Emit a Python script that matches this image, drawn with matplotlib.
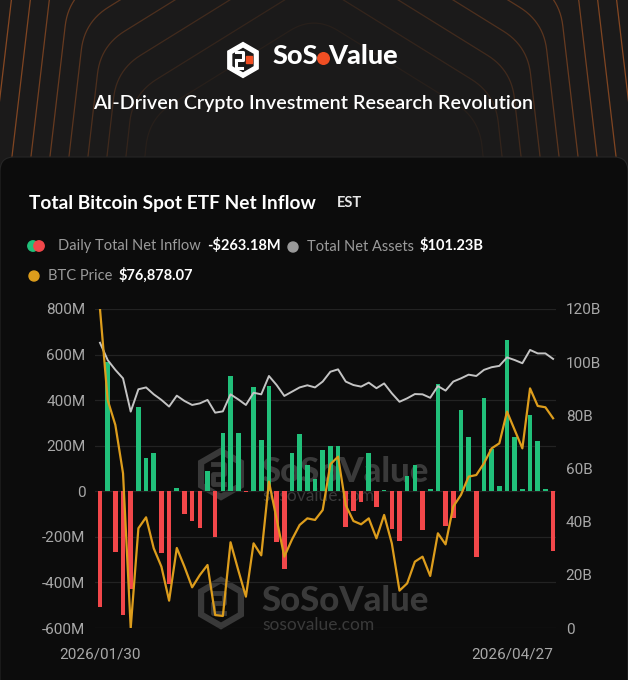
import numpy as np
import matplotlib
matplotlib.use("Agg")
import matplotlib.pyplot as plt
from matplotlib.patches import Rectangle, FancyBboxPatch, Circle, RegularPolygon

# daily total net inflow, $M (Jan 30 -> Apr 27, 2026, trading days)
net_inflow = [-510, 566, -268, -541, -430, 371, 146, 167, -272, -406,
              13, -99, -129, -162, 88, -199, 257, 506, 254, -5,
              459, 225, 462, -222, -342, 167, 251, 117, 53, 181,
              200, 199, -158, -85, -47, 167, -70, 6, -167, -216,
              69, 117, -170, 9, 471, -152, -117, 357, 240, -287,
              409, 184, 23, 662, 237, 9, 335, 222, 9, -263.18]

# total net assets, $B
net_assets = [107.3, 100.8, 97.1, 93.9, 81.4, 89.8, 90.5, 87.9, 85.8, 83.3,
              87.4, 85.4, 83.9, 84.5, 85.8, 81.0, 81.5, 87.9, 86.0, 83.9,
              88.5, 87.9, 94.8, 91.4, 87.3, 88.9, 90.5, 91.3, 90.5, 92.7,
              96.4, 97.3, 92.7, 91.4, 90.8, 92.3, 90.2, 92.0, 88.3, 85.1,
              86.4, 88.0, 87.9, 86.6, 91.0, 89.3, 92.7, 93.9, 95.3, 94.8,
              97.1, 98.1, 98.6, 101.8, 100.8, 99.6, 104.6, 103.3, 103.3, 101.23]

# BTC price, $
btc_price = [85150, 78260, 76370, 72710, 61000, 68550, 69380, 67030, 65640, 63070,
             67060, 65640, 64080, 65010, 65770, 61980, 61910, 67490, 65390, 63370,
             67410, 66500, 72080, 69250, 66400, 67700, 68800, 69300, 69180, 69930,
             73400, 73970, 70300, 69100, 68850, 69300, 67790, 69560, 67410, 63830,
             64380, 66020, 66400, 64940, 68170, 67330, 70190, 71070, 72460, 72580,
             73470, 74600, 74980, 77380, 75990, 74600, 79140, 77810, 77710, 76878.07]

date_labels = ["2026/01/30", "2026/04/27"]
left_ticks = [-600, -400, -200, 0, 200, 400, 600, 800]
right_ticks = [0, 20, 40, 60, 80, 100, 120]

GREEN = "#21c07a"
RED = "#f2474a"
ORANGE = "#dd9d1c"
GREY = "#c4c4c4"
TICK = "#a8a8a8"

W, H = 628, 680
fig = plt.figure(figsize=(W / 100, H / 100), dpi=100)
fig.patch.set_facecolor("#1b1a1a")

# full-figure axis in pixel coordinates for the banner / card / texts
bg = fig.add_axes([0, 0, 1, 1])
bg.set_xlim(0, W)
bg.set_ylim(H, 0)
bg.axis("off")


def rounded(pts, r):
    out = [pts[0]]
    for i in range(1, len(pts) - 1):
        p, a, b = pts[i], pts[i - 1], pts[i + 1]
        p1 = p + r * (a - p) / np.linalg.norm(a - p)
        p2 = p + r * (b - p) / np.linalg.norm(b - p)
        t = np.linspace(0, 1, 14)[:, None]
        out.extend((1 - t) ** 2 * p1 + 2 * (1 - t) * t * p + t ** 2 * p2)
    out.append(pts[-1])
    return np.array(out)


# banner pattern: nested house-like outlines
cx = 314
for k in range(16):
    hw = 170 + 19 * k
    yc = 118 - 24 * k
    hwc = hw - 0.12 * (160 - yc)
    pts = np.array([(cx - hw, 165), (cx - hwc, yc), (cx, yc - 0.62 * hwc),
                    (cx + hwc, yc), (cx + hw, 165)], dtype=float)
    path = rounded(pts, 28)
    bg.plot(path[:, 0], path[:, 1], color="#9a5024", lw=0.9,
            alpha=min(0.85, 0.1 + 0.1 * k), zorder=1)

# logo
bg.add_patch(RegularPolygon((243, 60), 6, radius=17.5, color="white", zorder=3))
bg.add_patch(RegularPolygon((243, 60), 6, radius=11.5, color="#1b1a1a", zorder=3))
bg.plot([236, 243, 243, 236], [52, 52, 60, 60], color="white", lw=2.2, zorder=4)
bg.plot([236, 236, 242], [60, 68, 68], color="white", lw=2.2, zorder=4)
bg.add_patch(Rectangle((245.5, 56), 6, 7, color="#f04e23", zorder=4))

renderer = fig.canvas.get_renderer()
inv = bg.transData.inverted()


def right_edge(t):
    bb = t.get_window_extent(renderer)
    return inv.transform((bb.x1, bb.y0))[0]


logo_kw = dict(fontsize=19.5, fontweight="black", family="Lato", color="white",
               va="center", zorder=4)
t1 = bg.text(273, 56, "SoS", **logo_kw)
xo = right_edge(t1)
bg.add_patch(Circle((xo + 5, 58.5), 5.8, color="#f04e23", zorder=4))
bg.text(xo + 10, 56, "Value", **logo_kw)

bg.text(313, 104, "AI-Driven Crypto Investment Research Revolution", fontsize=14.2,
        fontweight="semibold", family="Lato", color="white", ha="center",
        va="center", zorder=4)

# dark card
bg.add_patch(FancyBboxPatch((0, 157), W, 560, boxstyle="round,pad=0,rounding_size=14",
                            facecolor="#0c0c0c", edgecolor="#262626", lw=0.8, zorder=2))

bg.text(29, 204, "Total Bitcoin Spot ETF Net Inflow", fontsize=13.8, fontweight="bold",
        family="Lato", color="white", va="center", zorder=4)
bg.text(337, 203, "EST", fontsize=10.5, fontweight="bold", family="Lato",
        color="#e6e6e6", va="center", zorder=4)

# legend
lab_kw = dict(fontsize=10.5, family="Lato", color="#9b9b9b", va="center", zorder=4)
val_kw = dict(fontsize=10.5, family="Lato", fontweight="bold", color="white",
              va="center", zorder=4)
bg.add_patch(Circle((33, 246), 5.2, color=GREEN, zorder=4))
bg.add_patch(Circle((39, 246), 5.2, color=RED, zorder=5))
t = bg.text(58, 246, "Daily Total Net Inflow", **lab_kw)
last = net_inflow[-1]
sign = "-" if last < 0 else ""
bg.text(right_edge(t) + 6, 245, f"{sign}${abs(last):.2f}M", **val_kw)
bg.add_patch(Circle((293, 247), 5, color="#9a9a9a", zorder=4))
t = bg.text(307, 247, "Total Net Assets", **lab_kw)
bg.text(right_edge(t) + 6, 246, f"${net_assets[-1]:.2f}B", **val_kw)
bg.add_patch(Circle((34, 276), 5, color=ORANGE, zorder=4))
t = bg.text(48, 276, "BTC Price", **lab_kw)
bg.text(right_edge(t) + 6, 275, f"${btc_price[-1]:,.2f}", **val_kw)


# watermarks
def watermark(yc):
    bg.add_patch(RegularPolygon((221, yc + 2), 6, radius=23, fill=False,
                                edgecolor="#393939", lw=4.5, zorder=3))
    bg.plot([213, 224, 224, 213, 213, 224], [yc - 8, yc - 8, yc + 2, yc + 2, yc + 12, yc + 12],
            color="#393939", lw=3.5, zorder=3)
    bg.text(261, yc, "SoSoValue", fontsize=25, fontweight="black", family="Lato",
            color="#3a3a3a", va="center", zorder=3)
    bg.text(262, yc + 24, "sosovalue.com", fontsize=12.5, family="Lato",
            color="#3a3a3a", va="center", zorder=3)


watermark(472)
watermark(601)

# chart
n = len(net_inflow)
x = np.arange(n)
ax = fig.add_axes([95 / W, 52 / H, 461 / W, 319 / H])
ax.patch.set_alpha(0)
colors = [GREEN if v >= 0 else RED for v in net_inflow]
ax.bar(x, net_inflow, width=0.6, color=colors, zorder=3)
ax.set_xlim(-0.65, n - 0.62)
ax.set_ylim(-600, 800)
ax.set_yticks(left_ticks)
ax.set_yticklabels([f"{v}M" if v else "0" for v in left_ticks])
ax.yaxis.grid(True, color="#232323", lw=0.9)
ax.set_axisbelow(True)
ax.set_xticks([0, n - 1])
ax.set_xticklabels(date_labels)
ax.get_xticklabels()[1].set_ha("right")
ax.tick_params(axis="y", length=0, pad=7, labelsize=11, labelcolor=TICK)
ax.tick_params(axis="x", length=0, pad=14, labelsize=11, labelcolor=TICK)
for s in ax.spines.values():
    s.set_visible(False)

ax2 = ax.twinx()
ax2.plot(x, net_assets, color=GREY, lw=1.4)
ax2.set_ylim(0, 120)
ax2.set_yticks(right_ticks)
ax2.set_yticklabels([f"{v}B" if v else "0" for v in right_ticks])
ax2.tick_params(axis="y", length=0, pad=7, labelsize=11, labelcolor=TICK)
for s in ax2.spines.values():
    s.set_visible(False)

ax3 = ax.twinx()
ax3.plot(x, btc_price, color=ORANGE, lw=1.6)
ax3.set_ylim(min(btc_price), max(btc_price))
ax3.set_axis_off()

for a in (ax, ax2):
    for lab in a.get_xticklabels() + a.get_yticklabels():
        lab.set_family("Roboto")

fig.savefig("out.png", dpi=100, facecolor=fig.get_facecolor())
